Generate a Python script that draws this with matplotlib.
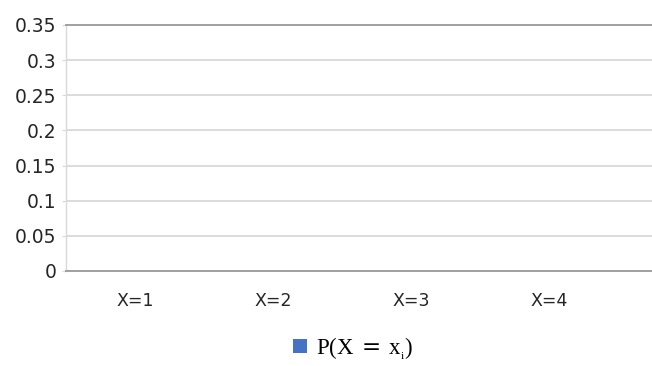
import matplotlib
matplotlib.use('Agg')

import numpy as np
import matplotlib.pyplot as plt
from matplotlib.patches import Patch

# Chart data #
categories = ['X=1', 'X=2', 'X=3', 'X=4']
probabilities = [0.0, 0.0, 0.0, 0.0]  # No bars are visible in the reference.
y_ticks = [0, 0.05, 0.1, 0.15, 0.2, 0.25, 0.3, 0.35]
y_tick_labels = ['0', '0.05', '0.1', '0.15', '0.2', '0.25', '0.3', '0.35']
series_label = r'$\mathrm{P(X\,}\mathsf{=}\mathrm{\,x_{_i})}$'

plt.rcParams['mathtext.fontset'] = 'custom'
plt.rcParams['mathtext.rm'] = 'Liberation Serif'
plt.rcParams['mathtext.sf'] = 'DejaVu Sans'
plt.rcParams['font.family'] = ['DejaVu Sans']

# Generate the figure and define its parameters #
figure = plt.figure(figsize=(6.52, 3.66), dpi=100)
axis = figure.add_axes([66 / 652, 1 - 271 / 366, 1 - 66 / 652, (271 - 25) / 366])

x = np.arange(len(categories))
axis.bar(x, probabilities, width=0.6, color='#4472c4', linewidth=0)

axis.set_xlim(-0.5, -0.5 + (652 - 66) / 138)
axis.set_ylim(0, 0.35)
axis.set_yticks(y_ticks)
axis.set_yticklabels(y_tick_labels)
axis.set_xticks(x)
axis.set_xticklabels(categories)

axis.grid(True, axis='y', color='#d9d9d9', linewidth=1.3)
axis.set_axisbelow(True)
axis.spines['right'].set_visible(False)
axis.spines['left'].set_color('#d9d9d9')
axis.spines['left'].set_linewidth(1.0)
axis.spines['bottom'].set_color('#a0a0a0')
axis.spines['bottom'].set_linewidth(1.4)
axis.spines['top'].set_color('#a0a0a0')
axis.spines['top'].set_linewidth(1.4)

axis.tick_params(axis='y', length=3, color='#d9d9d9', labelsize=13.5, labelcolor='#262626', pad=4)
axis.tick_params(axis='x', length=0, labelsize=12.5, labelcolor='#262626', pad=15)

# Legend #
handle = Patch(facecolor='#4472c4', edgecolor='none')
figure.legend([handle], [series_label], loc='center', bbox_to_anchor=(0.541, 0.048), frameon=False,
              fontsize=16.5, handlelength=0.6, handleheight=0.6, handletextpad=0.4)

plt.savefig('out.png', dpi=100)
